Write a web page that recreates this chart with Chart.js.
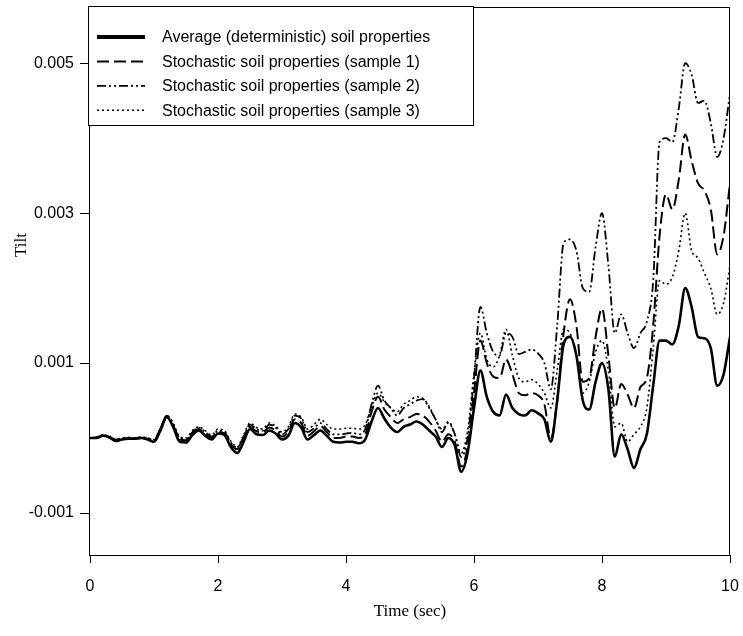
<!DOCTYPE html>
<html>
<head>
<meta charset="utf-8">
<script src="https://cdn.jsdelivr.net/npm/chart.js@4/dist/chart.umd.min.js"></script>
<style>
    body { margin: 0; background: #fff; }
    canvas { display: block; }
</style>
</head>
<body>
<canvas id="tiltChart" width="743" height="636"></canvas>
<script>
// Time (sec)
var times = [
    0.0, 0.1, 0.2, 0.3, 0.4, 0.5, 0.6, 0.7, 0.8, 0.9,
    1.0, 1.1, 1.2, 1.3, 1.4, 1.5, 1.6, 1.7, 1.8, 1.9,
    2.0, 2.1, 2.2, 2.3, 2.4, 2.5, 2.6, 2.7, 2.8, 2.9,
    3.0, 3.1, 3.2, 3.3, 3.4, 3.5, 3.6, 3.7, 3.8, 3.9,
    4.0, 4.1, 4.2, 4.3, 4.4, 4.5, 4.6, 4.7, 4.8, 4.9,
    5.0, 5.1, 5.2, 5.3, 5.4, 5.5, 5.6, 5.7, 5.8, 5.9,
    6.0, 6.1, 6.2, 6.3, 6.4, 6.5, 6.6, 6.7, 6.8, 6.9,
    7.0, 7.1, 7.2, 7.3, 7.4, 7.5, 7.6, 7.7, 7.8, 7.9,
    8.0, 8.1, 8.2, 8.3, 8.4, 8.5, 8.6, 8.7, 8.8, 8.9,
    9.0, 9.1, 9.2, 9.3, 9.4, 9.5, 9.6, 9.7, 9.8, 9.9,
    10.0
];

// Average (deterministic) soil properties
var tiltAverage = [
    0.00000, 0.00000, 0.00003, 0.00001, -0.00004, -0.00002, -0.00001, -0.00001, 0.00000, -0.00002,
    -0.00005, 0.00010, 0.00028, 0.00015, -0.00005, -0.00006, 0.00004, 0.00010, 0.00003, -0.00002,
    0.00006, 0.00004, -0.00012, -0.00020, -0.00005, 0.00012, 0.00005, 0.00004, 0.00010, 0.00006,
    -0.00002, 0.00003, 0.00020, 0.00014, -0.00002, 0.00004, 0.00010, 0.00003, -0.00005, -0.00006,
    -0.00005, -0.00005, -0.00007, -0.00002, 0.00022, 0.00040, 0.00026, 0.00014, 0.00008, 0.00015,
    0.00018, 0.00022, 0.00018, 0.00010, 0.00002, -0.00012, 0.00000, -0.00010, -0.00045, -0.00020,
    0.00040, 0.00090, 0.00055, 0.00035, 0.00030, 0.00058, 0.00040, 0.00032, 0.00030, 0.00037,
    0.00033, 0.00025, -0.00005, 0.00050, 0.00125, 0.00135, 0.00110, 0.00050, 0.00038, 0.00075,
    0.00100, 0.00065, -0.00025, 0.00005, -0.00015, -0.00040, -0.00015, 0.00005, 0.00070, 0.00130,
    0.00130, 0.00125, 0.00150, 0.00200, 0.00175, 0.00135, 0.00133, 0.00120, 0.00070, 0.00085,
    0.00135
];

// Stochastic soil properties (sample 1)
var tiltSample1 = [
    0.00000, 0.00000, 0.00003, 0.00001, -0.00003, -0.00001, 0.00000, -0.00001, 0.00000, -0.00001,
    -0.00004, 0.00012, 0.00028, 0.00017, -0.00002, -0.00003, 0.00007, 0.00012, 0.00005, 0.00000,
    0.00008, 0.00006, -0.00008, -0.00015, 0.00000, 0.00015, 0.00009, 0.00008, 0.00014, 0.00010,
    0.00002, 0.00008, 0.00025, 0.00020, 0.00003, 0.00009, 0.00016, 0.00008, 0.00000, 0.00000,
    0.00002, 0.00002, 0.00000, 0.00005, 0.00035, 0.00055, 0.00038, 0.00028, 0.00020, 0.00025,
    0.00028, 0.00032, 0.00030, 0.00022, 0.00010, -0.00005, 0.00005, -0.00005, -0.00038, -0.00012,
    0.00060, 0.00130, 0.00100, 0.00082, 0.00080, 0.00105, 0.00085, 0.00060, 0.00057, 0.00060,
    0.00057, 0.00045, 0.00000, 0.00050, 0.00140, 0.00185, 0.00150, 0.00075, 0.00080, 0.00135,
    0.00173, 0.00110, 0.00040, 0.00072, 0.00058, 0.00040, 0.00068, 0.00080, 0.00150, 0.00270,
    0.00325, 0.00305, 0.00345, 0.00405, 0.00370, 0.00340, 0.00330, 0.00305, 0.00245, 0.00270,
    0.00340
];

// Stochastic soil properties (sample 2)
var tiltSample2 = [
    0.00000, 0.00001, 0.00004, 0.00002, -0.00002, 0.00000, 0.00000, 0.00000, 0.00001, 0.00000,
    -0.00003, 0.00013, 0.00030, 0.00018, 0.00000, -0.00001, 0.00008, 0.00014, 0.00008, 0.00002,
    0.00010, 0.00008, -0.00006, -0.00013, 0.00002, 0.00018, 0.00012, 0.00010, 0.00018, 0.00014,
    0.00005, 0.00012, 0.00030, 0.00026, 0.00008, 0.00013, 0.00020, 0.00012, 0.00005, 0.00005,
    0.00006, 0.00007, 0.00005, 0.00012, 0.00045, 0.00070, 0.00050, 0.00040, 0.00030, 0.00040,
    0.00045, 0.00050, 0.00052, 0.00040, 0.00025, 0.00008, 0.00022, 0.00005, -0.00025, 0.00000,
    0.00080, 0.00175, 0.00140, 0.00115, 0.00110, 0.00140, 0.00135, 0.00112, 0.00115, 0.00118,
    0.00113, 0.00100, 0.00065, 0.00150, 0.00260, 0.00265, 0.00250, 0.00200, 0.00195, 0.00255,
    0.00300, 0.00230, 0.00140, 0.00165, 0.00140, 0.00120, 0.00140, 0.00155, 0.00210, 0.00395,
    0.00400, 0.00395, 0.00440, 0.00500, 0.00485, 0.00447, 0.00450, 0.00420, 0.00375, 0.00400,
    0.00460
];

// Stochastic soil properties (sample 3)
var tiltSample3 = [
    0.00000, 0.00001, 0.00004, 0.00003, -0.00002, 0.00000, 0.00001, 0.00000, 0.00001, 0.00000,
    -0.00002, 0.00014, 0.00030, 0.00020, 0.00002, 0.00000, 0.00010, 0.00015, 0.00010, 0.00004,
    0.00012, 0.00010, -0.00004, -0.00012, 0.00004, 0.00020, 0.00014, 0.00012, 0.00020, 0.00016,
    0.00008, 0.00015, 0.00032, 0.00028, 0.00012, 0.00018, 0.00025, 0.00018, 0.00012, 0.00012,
    0.00013, 0.00013, 0.00012, 0.00018, 0.00042, 0.00060, 0.00048, 0.00040, 0.00035, 0.00045,
    0.00050, 0.00055, 0.00053, 0.00042, 0.00025, 0.00012, 0.00020, 0.00005, -0.00020, 0.00010,
    0.00085, 0.00140, 0.00105, 0.00095, 0.00110, 0.00145, 0.00110, 0.00080, 0.00075, 0.00078,
    0.00072, 0.00060, 0.00040, 0.00090, 0.00145, 0.00140, 0.00110, 0.00060, 0.00075, 0.00115,
    0.00130, 0.00090, 0.00015, 0.00020, -0.00005, 0.00005, 0.00015, 0.00040, 0.00120, 0.00210,
    0.00205, 0.00215, 0.00250, 0.00300, 0.00250, 0.00240, 0.00220, 0.00200, 0.00165, 0.00180,
    0.00230
];

var seriesLabels = [
    'Average (deterministic) soil properties',
    'Stochastic soil properties (sample 1)',
    'Stochastic soil properties (sample 2)',
    'Stochastic soil properties (sample 3)'
];

var yTicks = [-0.001, 0.001, 0.003, 0.005];
var xTicks = [0, 2, 4, 6, 8, 10];

function toPoints(values) {
    return times.map(function (t, i) { return { x: t, y: values[i] }; });
}

var sansFont = '"Liberation Sans", Arial, sans-serif';
var serifFont = '"Liberation Serif", "Times New Roman", serif';

// Frame round the plot area, the y title (sits above the axis middle in the
// original) and the boxed legend in the upper left corner.
var frameAndLegend = {
    id: 'frameAndLegend',
    afterDraw: function (chart) {
        var ctx = chart.ctx;
        var area = chart.chartArea;
        ctx.save();
        ctx.strokeStyle = '#000';
        ctx.lineWidth = 1;
        ctx.setLineDash([]);
        ctx.strokeRect(Math.round(area.left) - 0.5, Math.round(area.top) + 0.5,
            Math.round(area.right - area.left), Math.round(area.bottom - area.top));

        // y axis title
        ctx.save();
        ctx.translate(22, 245);
        ctx.rotate(-Math.PI / 2);
        ctx.font = '17px ' + serifFont;
        ctx.fillStyle = '#000';
        ctx.textAlign = 'center';
        ctx.textBaseline = 'middle';
        ctx.fillText('Tilt', 0, 0);
        ctx.restore();

        // legend box
        var bx = 88, by = 6, bw = 385, bh = 119;
        ctx.fillStyle = '#fff';
        ctx.fillRect(bx, by, bw, bh);
        ctx.strokeRect(bx + 0.5, by + 0.5, bw, bh);

        ctx.font = '16px ' + sansFont;
        ctx.textBaseline = 'middle';
        ctx.textAlign = 'left';
        chart.data.datasets.forEach(function (ds, i) {
            var yy = 37 + i * 24.4;
            ctx.beginPath();
            ctx.strokeStyle = '#000';
            ctx.lineWidth = i === 0 ? 4 : ds.borderWidth;
            ctx.setLineDash(ds.borderDash || []);
            ctx.moveTo(97, yy);
            ctx.lineTo(145, yy);
            ctx.stroke();
            ctx.setLineDash([]);
            ctx.fillStyle = '#000';
            ctx.fillText(ds.label, 162, yy + 1);
        });
        ctx.restore();
    }
};

function drawTiltChart() {
    var ctx = document.getElementById('tiltChart');

    new Chart(ctx, {
        type: 'line',
        data: {
            datasets: [{
                label: seriesLabels[0],
                data: toPoints(tiltAverage),
                borderColor: '#000',
                borderWidth: 2.6,
                borderDash: []
            }, {
                label: seriesLabels[1],
                data: toPoints(tiltSample1),
                borderColor: '#000',
                borderWidth: 2,
                borderDash: [12, 5]
            }, {
                label: seriesLabels[2],
                data: toPoints(tiltSample2),
                borderColor: '#000',
                borderWidth: 1.8,
                borderDash: [9, 3, 2, 3, 2, 3]
            }, {
                label: seriesLabels[3],
                data: toPoints(tiltSample3),
                borderColor: '#000',
                borderWidth: 1.6,
                borderDash: [2, 3]
            }]
        },
        options: {
            responsive: false,
            animation: false,
            devicePixelRatio: 1,
            elements: {
                point: { radius: 0 },
                line: { cubicInterpolationMode: 'monotone', fill: false }
            },
            layout: {
                padding: { top: 7, right: 13, left: 0, bottom: 0 }
            },
            plugins: {
                legend: { display: false },
                tooltip: { enabled: false }
            },
            scales: {
                x: {
                    type: 'linear',
                    min: 0,
                    max: 10,
                    afterFit: function (scale) {
                        scale.height = 81;
                        scale.paddingLeft = 0;
                        scale.paddingRight = 0;
                    },
                    afterBuildTicks: function (scale) {
                        scale.ticks = xTicks.map(function (v) { return { value: v }; });
                    },
                    border: { display: false },
                    grid: {
                        drawOnChartArea: false,
                        drawTicks: true,
                        tickLength: 8,
                        tickColor: '#000',
                        tickWidth: 1
                    },
                    ticks: {
                        color: '#000',
                        padding: 14,
                        maxRotation: 0,
                        font: { family: sansFont, size: 16 },
                        callback: function (v) { return String(v); }
                    },
                    title: {
                        display: true,
                        text: 'Time (sec)',
                        color: '#000',
                        padding: 14,
                        font: { family: serifFont, size: 17 }
                    }
                },
                y: {
                    type: 'linear',
                    min: -0.00156,
                    max: 0.00575,
                    afterFit: function (scale) {
                        scale.width = 90;
                        scale.paddingTop = 0;
                        scale.paddingBottom = 0;
                    },
                    afterBuildTicks: function (scale) {
                        scale.ticks = yTicks.map(function (v) { return { value: v }; });
                    },
                    border: { display: false },
                    grid: {
                        drawOnChartArea: false,
                        drawTicks: true,
                        tickLength: 10,
                        tickColor: '#000',
                        tickWidth: 1
                    },
                    ticks: {
                        color: '#000',
                        padding: 6,
                        font: { family: sansFont, size: 16 },
                        callback: function (v) { return v.toFixed(3); }
                    },
                    title: { display: false }
                }
            }
        },
        plugins: [frameAndLegend]
    });
}

drawTiltChart();
</script>
</body>
</html>
